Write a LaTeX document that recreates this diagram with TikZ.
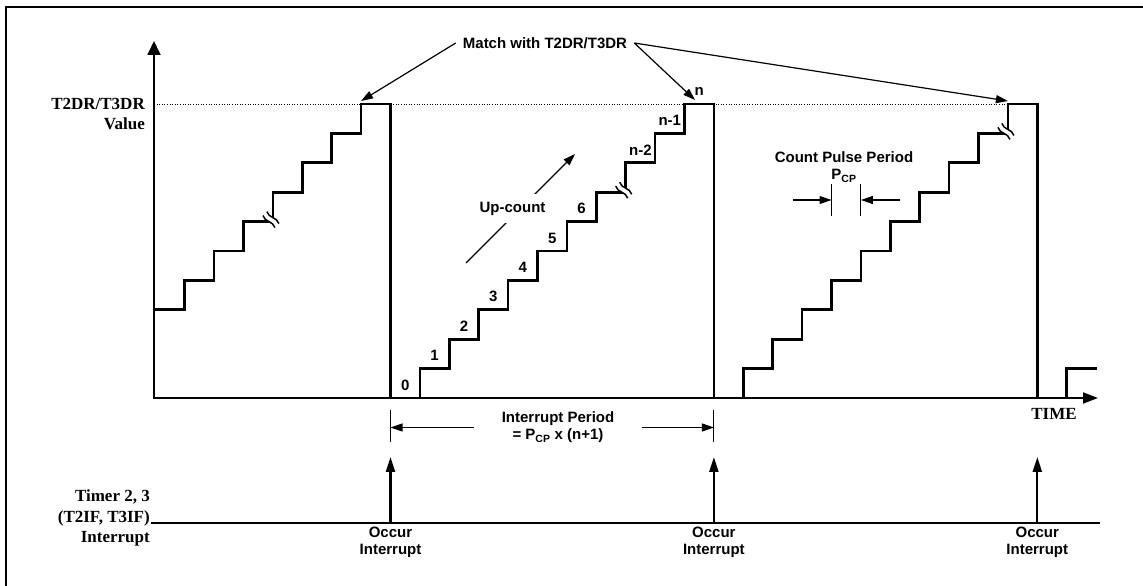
\documentclass[tikz,border=0pt]{standalone}
\usepackage{fontspec}
\setmainfont{Liberation Serif}
\setsansfont{Liberation Sans}
\usetikzlibrary{arrows.meta, positioning, calc}

\begin{document}
\begin{tikzpicture}[
x=1pt, y=1pt,
    stair/.style={line width=2.7pt, line join=miter},
    axis/.style={line width=1.8pt, {Triangle[length=14pt, width=13pt]}-{Triangle[length=15pt, width=11pt]}},
    guide/.style={line width=0.8pt, dash pattern=on 1pt off 1.6pt},
    pointer/.style={line width=1.2pt, -{Triangle[length=12pt, width=8pt]}},
    tick/.style={line width=0.9pt},
    irq/.style={line width=2.2pt, -{Triangle[length=15pt, width=9pt]}},
    sanslab/.style={font=\sffamily\bfseries\fontsize{15}{17}\selectfont, inner sep=1pt, align=center},
    serlab/.style={font=\bfseries\fontsize{17}{20.5}\selectfont, inner sep=1pt},
    numlab/.style={font=\sffamily\bfseries\fontsize{15}{17}\selectfont, inner sep=0pt},
    breakmark/.pic={
        \fill[white] (-2.8,-9) rectangle (2.8,9);
        \draw[line width=1.5pt] (-2.8,-8.5) .. controls (0.6,-2.5) and (-6.2,2.5) .. (-2.8,8.5);
        \draw[line width=1.5pt] (2.8,-8.5) .. controls (6.2,-2.5) and (-0.6,2.5) .. (2.8,8.5);
    }
]
    \useasboundingbox (-154,-188) rectangle (989,398);
    \def\stp{29.4}
    \def\xo{236.5}

    % --- Frame ---
    \draw[line width=1.6pt] (995,391) -- (-148,391) -- (-148,-195);

    % --- Axes and match level ---
    \coordinate (origin) at (0,0);
    \coordinate (ytop) at (0,357);
    \coordinate (xend) at (944,0);
    \draw[guide] (0,{10*\stp}) -- ({\xo+21*\stp},{10*\stp});
    \draw[axis] (ytop) -- (origin) -- (xend);
    \node[serlab, anchor=east, align=right] (ylabel) at (-8,284) {T2DR/T3DR\\Value};
    \node[serlab] (time) at (900,-16) {TIME};

    % --- Counter staircase ---
    \draw[stair] (0,{3*\stp})
        \foreach \j in {-7,...,23} {
            -- ({\xo+\j*\stp},{mod(\j+109,11)*\stp})
            -- ({\xo+\j*\stp},{mod(\j+110,11)*\stp})
        } -- (943,\stp);
    \pic[rotate=45] at ({\xo-4*\stp-2},{6*\stp+2}) {breakmark};
    \pic[rotate=45] at ({\xo+8*\stp-2},{7*\stp+2}) {breakmark};
    \pic[rotate=45] at ({\xo+21*\stp-2},{9*\stp+2}) {breakmark};

    % --- Count values ---
    \foreach \j/\lab in {0/0,1/1,2/2,3/3,4/4,5/5,6/6,8/n-2,9/n-1,10/n}
        \node[numlab] (count\j) at ({\xo+(\j+0.5)*\stp},{\j*\stp+13}) {\lab};

    % --- Match with T2DR/T3DR ---
    \node[sanslab, inner xsep=7pt] (match) at (391,355) {Match with T2DR/T3DR};
    \coordinate (topA) at ({\xo-\stp},297);
    \coordinate (topB) at (541,298);
    \coordinate (topC) at ({\xo+21*\stp},297);
    \draw[pointer] (match.west) -- (topA);
    \draw[pointer] (match.east) -- (topB);
    \draw[pointer] (match.east) -- (topC);

    % --- Up-count ---
    \coordinate (upfrom) at (312,135);
    \coordinate (upto) at (421,244);
    \draw[pointer] (upfrom) -- node[sanslab, fill=white, inner ysep=8pt, xshift=-8pt] (upcount) {Up-count} (upto);

    % --- Count pulse period ---
    \node[sanslab] (pulse) at (690,231) {Count Pulse Period\\P\textsubscript{CP}};
    \coordinate (pcpL) at ({\xo+15*\stp},198);
    \coordinate (pcpR) at ({\xo+16*\stp},198);
    \draw[tick] ([yshift=-16pt]pcpL) -- ([yshift=16pt]pcpL);
    \draw[tick] ([yshift=-16pt]pcpR) -- ([yshift=16pt]pcpR);
    \draw[pointer] ([xshift=-39pt]pcpL) -- (pcpL);
    \draw[pointer] ([xshift=39pt]pcpR) -- (pcpR);

    % --- Interrupt period ---
    \foreach \k in {1,2,3}
        \coordinate (drop\k) at ({\xo+(\k-1)*11*\stp},0);
    \node[sanslab, inner xsep=28pt] (iperiod) at (404,-29.5) {Interrupt Period\\= P\textsubscript{CP} x (n+1)};
    \draw[tick] ([yshift=-12pt]drop1) -- ([yshift=-44pt]drop1);
    \draw[tick] ([yshift=-12pt]drop2) -- ([yshift=-44pt]drop2);
    \draw[pointer] (iperiod) -- ([yshift=-29.5pt]drop1);
    \draw[pointer] (iperiod) -- ([yshift=-29.5pt]drop2);

    % --- Interrupt flag ---
    \node[serlab, anchor=east, align=right] (timer) at (-3,-120) {Timer 2, 3\\(T2IF, T3IF)\\Interrupt};
    \coordinate (irqend) at (946,-125);
    \draw[line width=2pt] (timer.east |- irqend) -- (irqend);
    \foreach \k in {1,2,3} {
        \draw[irq] (drop\k |- irqend) -- ++(0,66);
        \node[sanslab] (occur\k) at ([yshift=-144.5pt]drop\k) {Occur\\Interrupt};
    }

\end{tikzpicture}
\end{document}
